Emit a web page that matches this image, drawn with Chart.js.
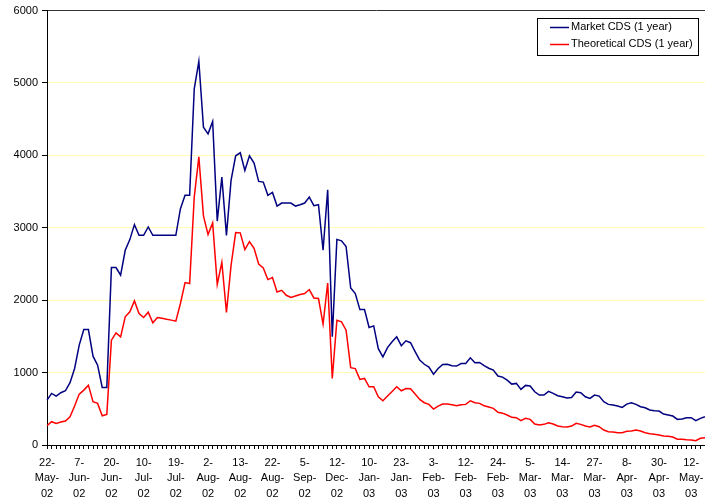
<!DOCTYPE html>
<html>
<head>
<meta charset="utf-8">
<script src="https://cdn.jsdelivr.net/npm/chart.js@4/dist/chart.umd.min.js"></script>
<style>
html,body{margin:0;padding:0;background:#fff;}
#wrap{width:705px;height:498px;position:relative;}
</style>
</head>
<body>
<div id="wrap"><canvas id="c" width="705" height="498"></canvas></div>
<script>
const tickLabels = ["22-May-02","7-Jun-02","20-Jun-02","10-Jul-02","19-Jul-02","2-Aug-02","13-Aug-02","22-Aug-02","5-Sep-02","12-Dec-02","10-Jan-03","23-Jan-03","3-Feb-03","12-Feb-03","24-Feb-03","5-Mar-03","14-Mar-03","27-Mar-03","8-Apr-03","30-Apr-03","12-May-03"];
const labelEvery = 7;
const seriesNames = ["Market CDS (1 year)","Theoretical CDS (1 year)"];
const marketCDS = [620,713,676,722,749,860,1057,1379,1595,1595,1227,1103,795,795,2450,2450,2345,2690,2837,3044,
2896,2896,3011,2896,2896,2896,2896,2896,2896,3264,3448,3448,4919,5300,4390,4298,4468,3093,3700,2896,
3654,3995,4036,3792,3995,3893,3641,3631,3448,3489,3300,3342,3342,3342,3300,3319,3342,3424,3305,3319,
2690,3526,1494,2840,2820,2740,2169,2092,1870,1870,1623,1645,1330,1218,1345,1425,1494,1372,1439,1413,
1290,1172,1115,1075,979,1057,1113,1115,1095,1090,1126,1126,1204,1137,1140,1095,1060,1034,952,938,
896,841,851,768,823,814,735,690,690,740,713,680,666,648,657,731,722,666,644,690,
676,597,561,552,538,520,565,584,561,529,515,483,474,469,428,414,400,354,359,377,
377,336,368,391];
const theoreticalCDS = [266,322,299,317,331,391,538,703,758,827,598,575,404,423,1448,1549,1494,1770,1839,1990,
1816,1761,1834,1687,1761,1751,1737,1725,1710,1954,2244,2230,3424,3980,3165,2906,3068,2218,2524,1830,
2480,2933,2930,2700,2808,2718,2500,2445,2285,2312,2114,2137,2068,2037,2059,2078,2092,2147,2031,2023,
1669,2238,920,1724,1700,1586,1068,1055,906,919,804,804,666,611,676,740,804,749,781,777,
703,630,584,561,496,538,565,565,556,542,556,561,611,584,575,543,525,506,453,440,
414,382,377,336,368,354,290,276,285,308,290,262,253,248,262,299,285,262,248,271,
253,207,184,179,170,170,189,193,207,193,170,156,147,138,124,120,110,79,79,73,
69,60,92,101];
const yTicks = [0,1000,2000,3000,4000,5000,6000];

const categories = marketCDS.map((_, i) => i % labelEvery === 0 ? tickLabels[i / labelEvery] : "");
const FONT = "'Liberation Sans', Arial, sans-serif";

const legendBox = {
  id: 'legendBox',
  afterDraw(chart) {
    const ctx = chart.ctx;
    const x = 537, y = 18, w = 161, h = 37;
    ctx.save();
    ctx.fillStyle = '#fff';
    ctx.fillRect(x, y, w, h);
    ctx.strokeStyle = '#000';
    ctx.lineWidth = 1;
    ctx.strokeRect(x + 0.5, y + 0.5, w, h);
    ctx.font = '11px ' + FONT;
    ctx.textBaseline = 'middle';
    chart.data.datasets.forEach((ds, i) => {
      const ry = y + 9 + i * 17;
      ctx.strokeStyle = ds.borderColor;
      ctx.lineWidth = 1.5;
      ctx.beginPath();
      ctx.moveTo(x + 13, ry + 0.5);
      ctx.lineTo(x + 32, ry + 0.5);
      ctx.stroke();
      ctx.fillStyle = '#000';
      ctx.fillText(ds.label, x + 34, ry);
    });
    ctx.restore();
  }
};

new Chart(document.getElementById('c'), {
  type: 'line',
  data: {
    labels: categories,
    datasets: [
      { label: seriesNames[0], data: marketCDS, borderColor: '#000080', borderWidth: 1.5, pointRadius: 0, tension: 0, fill: false },
      { label: seriesNames[1], data: theoreticalCDS, borderColor: '#ff0000', borderWidth: 1.5, pointRadius: 0, tension: 0, fill: false }
    ]
  },
  options: {
    responsive: false,
    animation: false,
    devicePixelRatio: 1,
    layout: { padding: { top: 10, right: 0, bottom: 0, left: 0 } },
    plugins: { legend: { display: false }, tooltip: { enabled: false } },
    scales: {
      x: {
        type: 'category',
        offset: false,
        border: { color: '#000', width: 1 },
        grid: { display: true, drawOnChartArea: false, drawTicks: true, tickLength: 4, color: '#000', lineWidth: 1 },
        ticks: {
          autoSkip: false, maxRotation: 0, minRotation: 0, padding: 6, color: '#000',
          font: { family: FONT, size: 11, lineHeight: 1.4 },
          callback: function (v, i) {
            const s = categories[i];
            if (!s) return '';
            const p = s.split('-');
            return [p[0] + '-', p[1] + '-', p[2]];
          }
        },
        afterFit(scale) { scale.height = 53; scale.paddingRight = 0; }
      },
      y: {
        min: 0, max: 6000,
        border: { color: '#000', width: 1 },
        grid: {
          color: (c) => (c.tick && c.tick.value === 6000) ? '#333' : (c.tick && c.tick.value === 0 ? '#000' : '#ffffb0'),
          tickColor: '#000', tickLength: 5, lineWidth: 1
        },
        afterBuildTicks(scale) { scale.ticks = yTicks.map(v => ({ value: v })); },
        ticks: { padding: 4, color: '#000', font: { family: FONT, size: 11 }, callback: (v) => String(v) },
        afterFit(scale) { scale.width = 47; }
      }
    }
  },
  plugins: [legendBox]
});
</script>
</body>
</html>
